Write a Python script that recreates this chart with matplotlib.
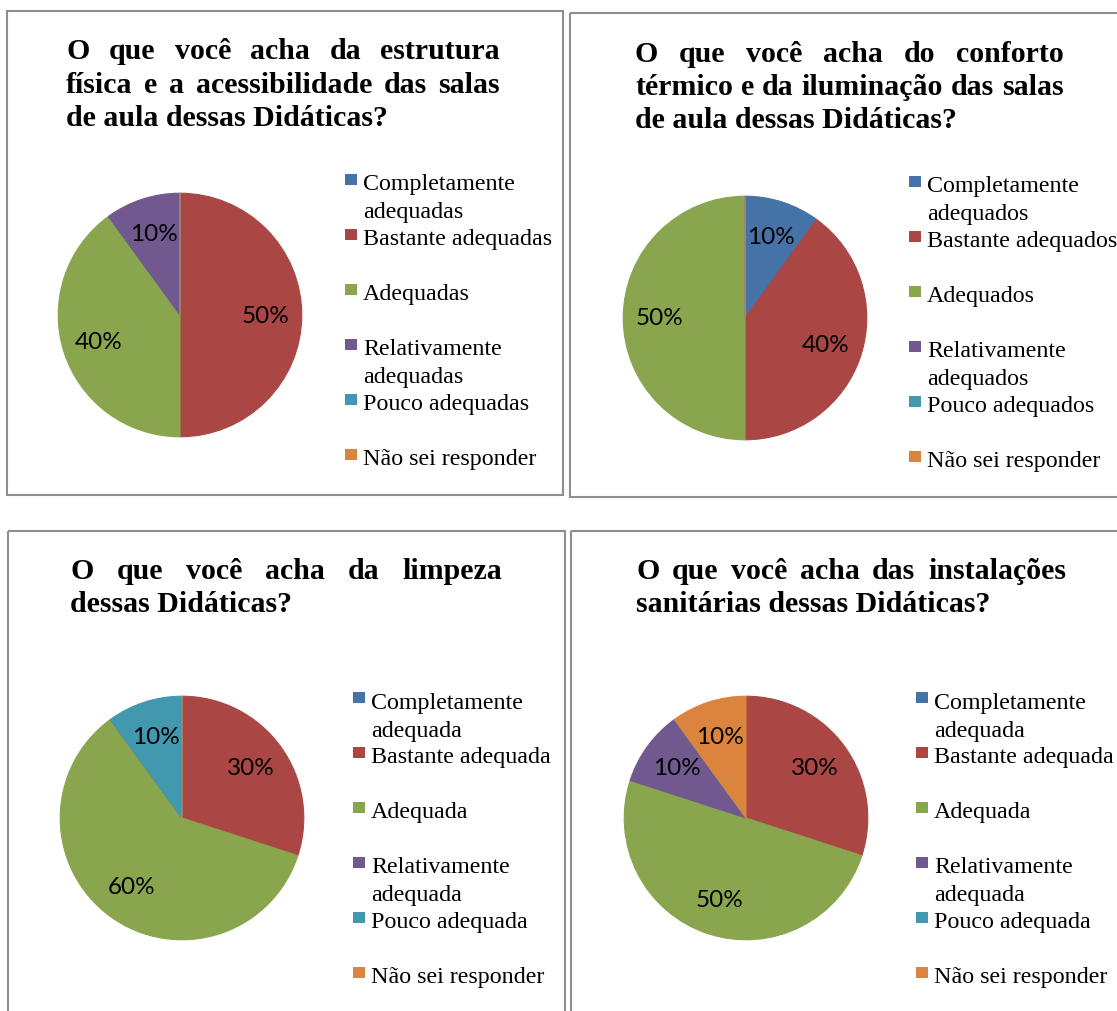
import matplotlib
matplotlib.use('Agg')
import matplotlib.pyplot as plt
from matplotlib.patches import Rectangle

W, H = 1117, 1012

cores = ['#4572A7', '#AA4643', '#89A54E', '#71588F', '#4198AF', '#DB843D']

titulo_estrutura = ['O que você acha da estrutura',
                    'física e a acessibilidade das salas',
                    'de aula dessas Didáticas?']
legenda_estrutura = ['Completamente\nadequadas', 'Bastante adequadas', 'Adequadas',
                     'Relativamente\nadequadas', 'Pouco adequadas', 'Não sei responder']
valores_estrutura = [0, 50, 40, 10, 0, 0]

titulo_conforto = ['O que você acha do conforto',
                   'térmico e da iluminação das salas',
                   'de aula dessas Didáticas?']
legenda_conforto = ['Completamente\nadequados', 'Bastante adequados', 'Adequados',
                    'Relativamente\nadequados', 'Pouco adequados', 'Não sei responder']
valores_conforto = [10, 40, 50, 0, 0, 0]

titulo_limpeza = ['O que você acha da limpeza',
                  'dessas Didáticas?']
titulo_sanitarios = ['O que você acha das instalações',
                     'sanitárias dessas Didáticas?']
legenda_adequada = ['Completamente\nadequada', 'Bastante adequada', 'Adequada',
                    'Relativamente\nadequada', 'Pouco adequada', 'Não sei responder']
valores_limpeza = [0, 30, 60, 0, 10, 0]
valores_sanitarios = [0, 30, 50, 10, 0, 10]

fonte_titulo = dict(family='Liberation Serif', fontweight='bold', fontsize=21.5, color='black')
fonte_legenda = dict(family='Liberation Serif', fontsize=17.3, color='black')
fonte_pct = dict(family='Lato', fontsize=17.5, color='black')

fig = plt.figure(figsize=(W / 100, H / 100), dpi=100)
fig.patch.set_facecolor('white')
fundo = fig.add_axes([0, 0, 1, 1])
fundo.set_xlim(0, W)
fundo.set_ylim(H, 0)
fundo.axis('off')
renderer = fig.canvas.get_renderer()


def titulo_justificado(linhas, x0, x1, y0, passo):
    # texto justificado: a última linha fica alinhada à esquerda
    for i, linha in enumerate(linhas):
        y = y0 + i * passo
        if i == len(linhas) - 1:
            fundo.text(x0, y, linha, ha='left', va='baseline', **fonte_titulo)
            continue
        palavras = linha.split()
        textos = [fundo.text(0, y, p, ha='left', va='baseline', **fonte_titulo) for p in palavras]
        larguras = [t.get_window_extent(renderer).width for t in textos]
        espaco = (x1 - x0 - sum(larguras)) / (len(palavras) - 1)
        x = x0
        for t, w in zip(textos, larguras):
            t.set_x(x)
            x += w + espaco


def legenda(rotulos, xq, yc, passo=55.0, lado=12, entrelinha=28):
    for i, rotulo in enumerate(rotulos):
        y = yc + i * passo
        fundo.add_patch(Rectangle((xq, y - lado / 2), lado, lado - 1,
                                  facecolor=cores[i], edgecolor='none'))
        for j, parte in enumerate(rotulo.split('\n')):
            fundo.text(xq + lado + 6, y + 9.5 + j * entrelinha, parte,
                       ha='left', va='baseline', **fonte_legenda)


def pizza(valores, cx, cy, r=123):
    ax = fig.add_axes([(cx - r) / W, 1 - (cy + r) / H, 2 * r / W, 2 * r / H])
    fatias, _, _ = ax.pie(valores, colors=cores, startangle=90, counterclock=False,
                          autopct=lambda p: f'{p:.0f}%' if p > 0 else '',
                          pctdistance=0.7, textprops=fonte_pct)
    for f in fatias:
        f.set_edgecolor(f.get_facecolor())
        f.set_linewidth(0.8)
    ax.set_xlim(-1.01, 1.01)
    ax.set_ylim(-1.01, 1.01)
    ax.axis('off')


def caixa(x0, y0, x1, y1):
    fundo.add_patch(Rectangle((x0, y0), x1 - x0, y1 - y0, facecolor='none',
                              edgecolor='#8E8E8E', linewidth=1.5))


# painel superior esquerdo
caixa(7, 12, 563, 496)
titulo_justificado(titulo_estrutura, 66, 500, 59, 33.5)
pizza(valores_estrutura, 180, 316)
legenda(legenda_estrutura, 345, 180.5)

# painel superior direito
caixa(570, 14, 1125, 498)
titulo_justificado(titulo_conforto, 635, 1064, 62, 33)
pizza(valores_conforto, 745, 319)
legenda(legenda_conforto, 909, 182.5)

# painel inferior esquerdo
caixa(8, 532, 565, 1030)
titulo_justificado(titulo_limpeza, 70, 502, 579, 32.5)
pizza(valores_limpeza, 182, 819)
legenda(legenda_adequada, 353, 699)

# painel inferior direito
caixa(571, 532, 1125, 1030)
titulo_justificado(titulo_sanitarios, 636, 1066, 579, 32.5)
pizza(valores_sanitarios, 746, 819)
legenda(legenda_adequada, 916, 699)

fig.savefig('out.png', dpi=100, facecolor='white')
